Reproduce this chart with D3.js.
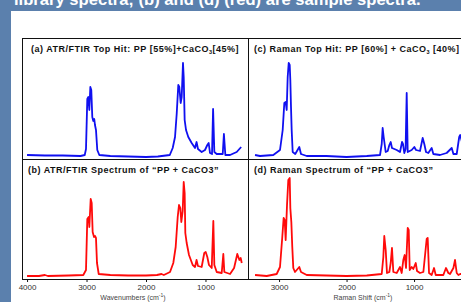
<!DOCTYPE html>
<html>
<head>
<meta charset="utf-8">
<script src="https://cdn.jsdelivr.net/npm/d3@7"></script>
<style>
  html, body { margin: 0; padding: 0; background: #5b80ad; }
  svg { display: block; font-family: "Liberation Sans", Arial, Helvetica, sans-serif; }
</style>
</head>
<body>
<div id="chart"></div>
<script>
// spectra: [wavenumber (cm-1), intensity 0-100]
const ftirLibrary = [
  [4000,2],[3700,1.5],[3400,1.5],[3100,1],[3030,2],[3009,8],[2987,58],[2970,60],[2953,47],
  [2936,70],[2920,67],[2903,40],[2886,36],[2870,38],[2858,32],[2841,27],[2819,7],[2785,2],
  [2600,1],[2300,0.5],[2000,0],[1800,0.5],[1600,2],[1551,9],[1512,20],[1484,43],[1457,72],
  [1440,70],[1417,54],[1400,60],[1378,94],[1366,80],[1350,37],[1327,27],[1289,20],[1232,14],
  [1176,9],[1150,15],[1126,8],[1064,5],[1008,7],[969,12],[946,14],[924,4],[890,3],[872,48],
  [851,5],[811,3],[710,3],[690,23],[666,2],[587,2],[475,5],[400,10]
];
const ftirSample = [
  [4000,1],[3800,1],[3700,2],[3650,1],[3300,1.5],[3054,2],[3009,7],[2987,58],[2964,60],
  [2953,50],[2930,78],[2913,74],[2897,45],[2874,40],[2858,41],[2841,39],[2824,14],[2795,3],
  [2600,2],[2300,1.5],[2000,1.5],[1815,2],[1740,3],[1700,2],[1596,5],[1541,14],[1501,30],
  [1467,60],[1445,72],[1423,69],[1406,55],[1383,66],[1366,95],[1350,84],[1339,44],[1316,34],
  [1277,22],[1215,12],[1176,10],[1150,17],[1126,11],[1064,10],[1020,24],[996,25],[969,20],
  [941,12],[895,9],[868,56],[851,12],[811,5],[727,4],[700,23],[683,5],[587,3],[519,9],
  [465,23],[430,17],[408,19],[390,14]
];
const ramanLibrary = [
  [3356,2],[3282,1],[3085,2],[2986,7],[2946,27],[2922,54],[2902,55],[2887,47],[2872,80],
  [2857,94],[2842,92],[2833,77],[2823,50],[2813,27],[2798,5],[2760,3],[2700,10],[2675,3],
  [2590,1],[2300,1],[2000,0],[1700,1],[1504,2],[1479,13],[1465,29],[1450,20],[1420,5],
  [1390,6],[1366,12],[1346,15],[1327,9],[1257,7],[1208,5],[1178,15],[1164,13],[1144,4],
  [1125,8],[1109,64],[1094,5],[1035,7],[996,10],[971,7],[912,6],[872,19],[848,13],[823,5],
  [789,4],[739,9],[714,3],[616,2],[517,4],[442,9],[417,3],[368,3],[331,20],[316,22],[290,15]
];
const ramanSample = [
  [3356,2],[3183,1],[3035,3],[2986,10],[2952,40],[2932,59],[2917,57],[2902,37],[2882,72],
  [2863,97],[2842,99],[2833,69],[2818,55],[2804,30],[2789,9],[2764,5],[2700,10],[2675,5],
  [2590,2],[2300,1.5],[2000,1],[1700,1.5],[1479,3],[1455,20],[1441,41],[1420,27],[1401,4],
  [1366,5],[1346,14],[1327,29],[1307,5],[1257,4],[1208,10],[1183,4],[1159,17],[1139,22],
  [1119,9],[1094,49],[1079,47],[1064,7],[1035,10],[1011,8],[975,14],[956,6],[912,4],[862,5],
  [813,38],[798,39],[778,4],[739,2],[704,9],[679,2],[566,2],[527,9],[492,4],[467,3],[417,9],
  [393,17],[368,4],[343,2],[316,3],[290,3]
];

const ftirTicks = [4000, 3000, 2000, 1000];
const ramanTicks = [3000, 2000, 1000];
const bannerText = "library spectra; (b) and (d) (red) are sample spectra.";

const width = 461, height = 302;
const frameL = 22, frameMid = 248, frameR = 500, frameT = 38, frameMidY = 159, frameB = 279;

const svg = d3.select("#chart").append("svg")
    .attr("width", width)
    .attr("height", height);

// banner + white sheet
svg.append("rect").attr("width", width).attr("height", height).attr("fill", "#5b80ad");
svg.append("text")
    .attr("x", 14).attr("y", 5)
    .attr("fill", "#fff")
    .attr("font-weight", "bold")
    .attr("font-size", 16.6)
    .text(bannerText);
svg.append("rect")
    .attr("x", 11).attr("y", 11)
    .attr("width", width - 11).attr("height", height - 11)
    .attr("fill", "#fff");

const xFtir = d3.scaleLinear().domain([4085, 285]).range([frameL, frameMid]);
const xRaman = d3.scaleLinear().domain([3460, 0]).range([frameMid, frameMid + 3460 * 0.0675]);
const yTop = d3.scaleLinear().domain([0, 100]).range([157, 57]);
const yBot = d3.scaleLinear().domain([0, 100]).range([277, 177]);

svg.append("clipPath").attr("id", "clipL")
  .append("rect").attr("x", frameL).attr("y", frameT).attr("width", frameMid - frameL).attr("height", frameB - frameT);
svg.append("clipPath").attr("id", "clipR")
  .append("rect").attr("x", frameMid).attr("y", frameT).attr("width", frameR - frameMid).attr("height", frameB - frameT);

const panels = [
  {data: ftirLibrary, x: xFtir, y: yTop, color: "#1010f0", clip: "clipL"},
  {data: ftirSample, x: xFtir, y: yBot, color: "#ff0a0a", clip: "clipL"},
  {data: ramanLibrary, x: xRaman, y: yTop, color: "#1010f0", clip: "clipR"},
  {data: ramanSample, x: xRaman, y: yBot, color: "#ff0a0a", clip: "clipR"}
];

panels.forEach(p => {
  const line = d3.line().x(d => p.x(d[0])).y(d => p.y(d[1]));
  svg.append("path")
      .attr("clip-path", `url(#${p.clip})`)
      .attr("d", line(p.data))
      .attr("fill", "none")
      .attr("stroke", p.color)
      .attr("stroke-width", 1.8)
      .attr("stroke-linejoin", "round");
});

// frame
const frame = svg.append("g").attr("stroke", "#111").attr("stroke-width", 1).attr("shape-rendering", "crispEdges");
frame.append("line").attr("x1", frameL).attr("x2", frameR).attr("y1", frameT).attr("y2", frameT);
frame.append("line").attr("x1", frameL).attr("x2", frameR).attr("y1", frameMidY).attr("y2", frameMidY);
frame.append("line").attr("x1", frameL).attr("x2", frameR).attr("y1", frameB).attr("y2", frameB);
frame.append("line").attr("x1", frameL).attr("x2", frameL).attr("y1", frameT).attr("y2", frameB);
frame.append("line").attr("x1", frameMid).attr("x2", frameMid).attr("y1", frameT).attr("y2", frameB);

// axes
function drawAxis(scale, ticks) {
  const g = svg.append("g")
      .attr("transform", `translate(0,${frameB})`)
      .call(d3.axisBottom(scale).tickValues(ticks).tickSize(3).tickPadding(2).tickFormat(d3.format("d")));
  g.select(".domain").remove();
  g.selectAll("line").attr("stroke", "#111");
  g.selectAll("text").attr("fill", "#333").attr("font-size", 8).attr("font-family", null);
}
drawAxis(xFtir, ftirTicks);
drawAxis(xRaman, ramanTicks);

function axisTitle(x, label) {
  const t = svg.append("text")
      .attr("x", x).attr("y", 299.5)
      .attr("text-anchor", "middle")
      .attr("font-size", 7)
      .attr("fill", "#444");
  t.append("tspan").text(label + " (cm");
  t.append("tspan").attr("font-size", 5).attr("dy", -2.5).text("-1");
  t.append("tspan").attr("dy", 2.5).text(")");
}
axisTitle(133, "Wavenumbers");
axisTitle(363, "Raman Shift");

// panel titles; objects mark subscripts
function panelTitle(x, y, parts) {
  const t = svg.append("text")
      .attr("x", x).attr("y", y)
      .attr("font-size", 9)
      .attr("letter-spacing", 0.5)
      .attr("font-weight", "bold")
      .attr("fill", "#111");
  let shift = 0;
  parts.forEach(p => {
    if (typeof p === "object") {
      t.append("tspan").attr("font-size", 5.5).attr("dy", 1.8).text(p.sub);
      shift = -1.8;
    } else {
      t.append("tspan").attr("dy", shift).text(p);
      shift = 0;
    }
  });
}
panelTitle(31, 52, ["(a) ATR/FTIR Top Hit: PP [55%]+CaCO", {sub: "3"}, "[45%]"]);
panelTitle(254, 52, ["(c) Raman Top Hit: PP [60%] + CaCO", {sub: "3"}, " [40%]"]);
panelTitle(28, 173, ["(b) ATR/FTIR Spectrum of \u201cPP + CaCO3\u201d"]);
panelTitle(254, 173, ["(d) Raman Spectrum of \u201cPP + CaCO3\u201d"]);
</script>
</body>
</html>
